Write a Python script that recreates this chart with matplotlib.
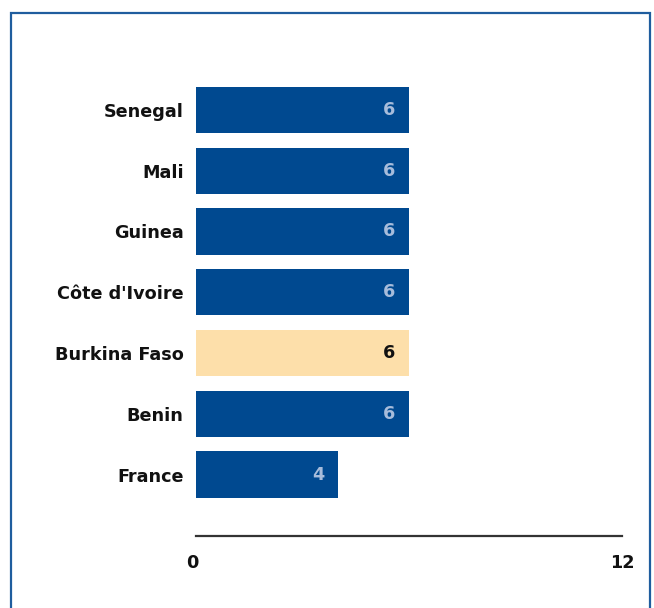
import matplotlib
matplotlib.use("Agg")
import matplotlib.pyplot as plt
import matplotlib.patches as mpatches
import matplotlib.transforms as mtransforms

# ── Data ──────────────────────────────────────────────────────────────────────
countries = ["Senegal", "Mali", "Guinea", "Côte d'Ivoire", "Burkina Faso", "Benin", "France"]
values = [6, 6, 6, 6, 6, 6, 4]
highlight = "Burkina Faso"
x_ticks = [0, 12]

# ── Palette ───────────────────────────────────────────────────────────────────
CLR_BAR = "#004990"
CLR_HL = "#FDDFAA"
CLR_VAL = "#A7BCDB"
CLR_FRAME = "#1F5D9E"
CLR_AXIS = "#333333"
FS = 12.7

W, H = 654, 608
fig = plt.figure(figsize=(W / 100, H / 100), dpi=100)
plt.rcParams["font.family"] = ["DejaVu Sans"]

ax_left, ax_right = 196 / W, 622 / W
ax_top, ax_bot = 60 / H, 536 / H
ax = fig.add_axes([ax_left, 1 - ax_bot, ax_right - ax_left, ax_bot - ax_top])

n = len(countries)
ypos = list(range(n - 1, -1, -1))
colors = [CLR_HL if c == highlight else CLR_BAR for c in countries]
ax.barh(ypos, values, height=0.76, color=colors, zorder=2)

for y, v, c in zip(ypos, values, countries):
    is_hl = c == highlight
    ax.text(v - 0.38, y, f"{v}", ha="right", va="center", fontsize=FS,
            fontweight="bold", color="#111111" if is_hl else CLR_VAL)

ax.set_xlim(0, 12)
ax.set_ylim(-1.01, n - 1 + 0.82)
ax.set_yticks(ypos)
ax.set_yticklabels(countries, fontsize=FS, fontweight="bold", color="#111111")
ax.set_xticks(x_ticks)
ax.set_xticklabels([str(t) for t in x_ticks], fontsize=FS, fontweight="bold",
                   color="#111111")
ax.tick_params(axis="y", length=0, pad=9)
ax.tick_params(axis="x", length=0, pad=13)

# nudge the "0" label a little to the left, as in the original
lbl0 = ax.get_xticklabels()[0]
lbl0.set_transform(lbl0.get_transform() +
                   mtransforms.ScaledTranslation(-4 / 100, 0, fig.dpi_scale_trans))

for s in ["top", "right", "left"]:
    ax.spines[s].set_visible(False)
ax.spines["bottom"].set_color(CLR_AXIS)
ax.spines["bottom"].set_linewidth(1.6)

# ── Outer frame ───────────────────────────────────────────────────────────────
frame = mpatches.Rectangle((11 / W, -0.05), (650 - 11) / W, 1.05 - 13 / H,
                           transform=fig.transFigure, fill=False,
                           edgecolor=CLR_FRAME, linewidth=1.6)
fig.patches.append(frame)

fig.savefig("out.png", dpi=100, facecolor="white")
